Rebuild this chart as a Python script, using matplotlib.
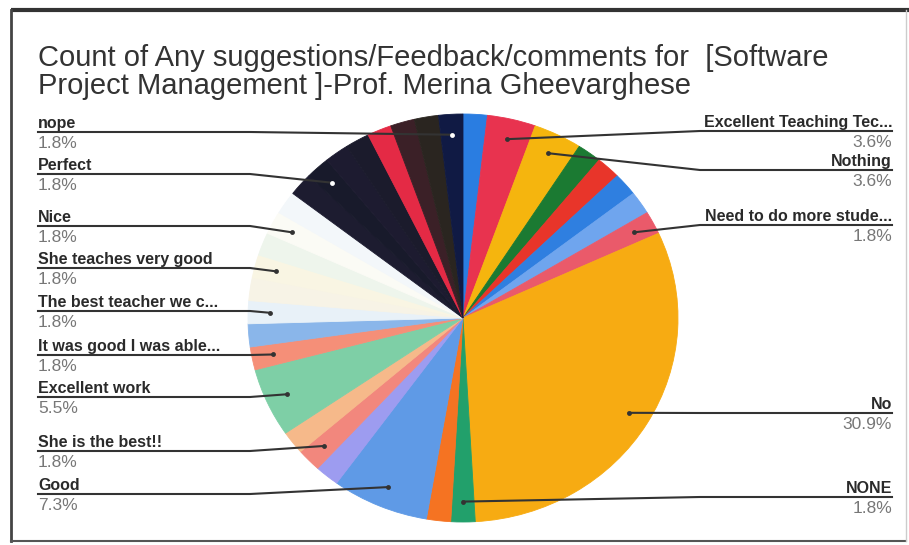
import math
import matplotlib
matplotlib.use("Agg")
from matplotlib import pyplot as plt
from matplotlib import colors as mcolors

plt.rcParams["font.family"] = ["Liberation Sans", "DejaVu Sans"]

# responses per answer, clockwise from 12 o'clock
answers = ["", "Excellent Teaching Tec...", "Nothing", "", "", "", "",
           "Need to do more stude...", "No", "NONE", "", "Good", "",
           "She is the best!!", "", "Excellent work", "It was good I was able...", "",
           "The best teacher we c...", "", "She teaches very good", "", "Nice", "",
           "", "Perfect", "", "", "", "", "", "nope"]
counts = [1, 2, 2, 1, 1, 1, 1, 1, 17, 1, 1, 4, 1, 1, 1, 3, 1, 1,
          1, 1, 1, 1, 1, 1, 1, 1, 1, 1, 1, 1, 1, 1]
slice_colors = ["#2a7de1", "#e8334f", "#f5b50e", "#1b7a32", "#e8352a", "#2f7fe0", "#6fa5ee",
                "#ea5a6a", "#f7ab12", "#22a06b", "#f57322", "#5f9ae6", "#9d9cf0",
                "#f2877d", "#f6b98a", "#7ecfa6", "#f58f78", "#8ab6ea",
                "#e8f1f8", "#f7f3e6", "#f9f5e3", "#eef5ec", "#fbfbf5", "#f3f7fa",
                "#1d1c30", "#181a2b", "#1d1b30", "#1b1b2c", "#e42a45",
                "#3b2027", "#2a2520", "#101a44"]

title_lines = ["Count of Any suggestions/Feedback/comments for  [Software",
               "Project Management ]-Prof. Merina Gheevarghese"]

# label layout: (side, y of leader line in pixels)
label_pos = {
    "nope": ("left", 132), "Perfect": ("left", 174), "Nice": ("left", 226),
    "She teaches very good": ("left", 268), "The best teacher we c...": ("left", 311),
    "It was good I was able...": ("left", 355), "Excellent work": ("left", 397),
    "She is the best!!": ("left", 451), "Good": ("left", 494),
    "Excellent Teaching Tec...": ("right", 131), "Nothing": ("right", 170),
    "Need to do more stude...": ("right", 225), "No": ("right", 413),
    "NONE": ("right", 497),
}

W, H = 909, 545
fig = plt.figure(figsize=(W / 100, H / 100), dpi=100)
fig.patch.set_facecolor("white")

# pie axes placed in pixel terms
px_l, px_r, px_t, px_b = 248, 678, 114, 522
ax = fig.add_axes([px_l / W, (H - px_b) / H, (px_r - px_l) / W, (px_b - px_t) / H])
wedges, _ = ax.pie(counts, colors=slice_colors, startangle=90, counterclock=False)
for w in wedges:
    w.set_edgecolor(w.get_facecolor())
    w.set_linewidth(0.6)
ax.set_aspect("auto")
ax.set_xlim(-1, 1)
ax.set_ylim(-1, 1)
ax.axis("off")

# overlay in pixel coords for title, labels, frame
ov = fig.add_axes([0, 0, 1, 1], zorder=5)
ov.set_xlim(0, W)
ov.set_ylim(H, 0)
ov.axis("off")
ov.patch.set_alpha(0)

# frame
ov.plot([11, W], [10, 10], color="#333333", lw=3, solid_capstyle="butt")
ov.plot([11, 11], [10, 541], color="#444444", lw=2)
ov.plot([11, 906], [541, 541], color="#555555", lw=1.5)
ov.plot([906, 906], [10, 541], color="#cccccc", lw=1)

ov.text(38, 66, title_lines[0], fontsize=21, color="#333333", va="baseline")
ov.text(38, 94, title_lines[1], fontsize=21, color="#333333", va="baseline")

total = sum(counts)
to_ov = ov.transData.inverted()
cum = 0
for name, v, c in zip(answers, counts, slice_colors):
    cum_mid = cum + v / 2
    cum += v
    if not name:
        continue
    ang = cum_mid / total * 2 * math.pi
    disp = ax.transData.transform((0.9 * math.sin(ang), 0.9 * math.cos(ang)))
    axp, ayp = to_ov.transform(disp)
    side, yl = label_pos[name]
    pct = f"{v / total * 100:.1f}%"
    if side == "left":
        xt, ha = 38, "left"
        bend = min(250, axp - 10)
        ov.plot([38, bend, axp], [yl, yl, ayp], color="#333333", lw=1.5)
    else:
        xt, ha = 892, "right"
        bend = max(700, axp + 10)
        ov.plot([892, bend, axp], [yl, yl, ayp], color="#333333", lw=1.5)
    ov.text(xt, yl - 4, name, fontsize=11.5, fontweight="bold", color="#2a2a2a",
            va="baseline", ha=ha)
    ov.text(xt, yl + 16, pct, fontsize=12.5, color="#777777", va="baseline", ha=ha)
    r, g, b = mcolors.to_rgb(c)
    dot = "white" if (0.3 * r + 0.59 * g + 0.11 * b) < 0.3 else "#333333"
    ov.plot(axp, ayp, "o", ms=3.5, color=dot, mec="none")

fig.savefig("out.png", dpi=100)
